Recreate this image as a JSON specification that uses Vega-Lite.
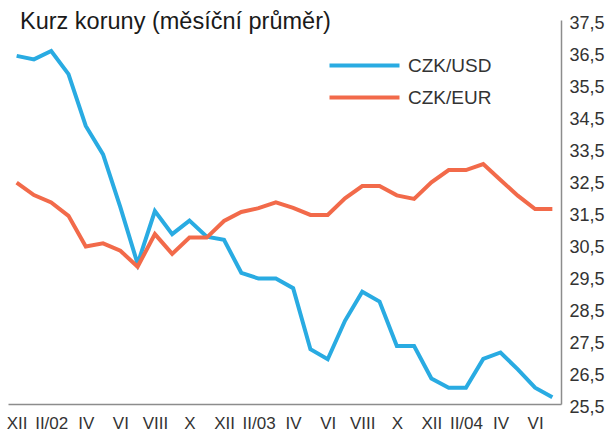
{
  "$schema": "https://vega.github.io/schema/vega-lite/v6.json",
  "width": 553,
  "height": 384,
  "autosize": {"type": "none"},
  "padding": {"left": 8, "top": 20, "right": 48, "bottom": 28},
  "background": "white",
  "config": {"view": {"stroke": null}, "font": "Liberation Sans"},
  "title": {
    "text": "Kurz koruny (měsíční průměr)",
    "anchor": "start",
    "frame": "group",
    "orient": "top",
    "offset": 0,
    "baseline": "alphabetic",
    "dx": 12,
    "dy": 38,
    "fontSize": 23.5,
    "fontWeight": "normal",
    "color": "#1a1a1a",
    "font": "Liberation Sans"
  },
  "data": {
    "values": [
      {"m": "XII/01", "k": "CZK/USD", "v": 36.38}, {"m": "XII/01", "k": "CZK/EUR", "v": 32.42},
      {"m": "I/02", "k": "CZK/USD", "v": 36.27}, {"m": "I/02", "k": "CZK/EUR", "v": 32.03},
      {"m": "II/02", "k": "CZK/USD", "v": 36.53}, {"m": "II/02", "k": "CZK/EUR", "v": 31.80},
      {"m": "III/02", "k": "CZK/USD", "v": 35.81}, {"m": "III/02", "k": "CZK/EUR", "v": 31.38},
      {"m": "IV/02", "k": "CZK/USD", "v": 34.19}, {"m": "IV/02", "k": "CZK/EUR", "v": 30.42},
      {"m": "V/02", "k": "CZK/USD", "v": 33.30}, {"m": "V/02", "k": "CZK/EUR", "v": 30.52},
      {"m": "VI/02", "k": "CZK/USD", "v": 31.65}, {"m": "VI/02", "k": "CZK/EUR", "v": 30.29},
      {"m": "VII/02", "k": "CZK/USD", "v": 29.88}, {"m": "VII/02", "k": "CZK/EUR", "v": 29.79},
      {"m": "VIII/02", "k": "CZK/USD", "v": 31.53}, {"m": "VIII/02", "k": "CZK/EUR", "v": 30.81},
      {"m": "IX/02", "k": "CZK/USD", "v": 30.81}, {"m": "IX/02", "k": "CZK/EUR", "v": 30.19},
      {"m": "X/02", "k": "CZK/USD", "v": 31.23}, {"m": "X/02", "k": "CZK/EUR", "v": 30.70},
      {"m": "XI/02", "k": "CZK/USD", "v": 30.73}, {"m": "XI/02", "k": "CZK/EUR", "v": 30.70},
      {"m": "XII/02", "k": "CZK/USD", "v": 30.63}, {"m": "XII/02", "k": "CZK/EUR", "v": 31.22},
      {"m": "I/03", "k": "CZK/USD", "v": 29.60}, {"m": "I/03", "k": "CZK/EUR", "v": 31.50},
      {"m": "II/03", "k": "CZK/USD", "v": 29.42}, {"m": "II/03", "k": "CZK/EUR", "v": 31.62},
      {"m": "III/03", "k": "CZK/USD", "v": 29.42}, {"m": "III/03", "k": "CZK/EUR", "v": 31.80},
      {"m": "IV/03", "k": "CZK/USD", "v": 29.12}, {"m": "IV/03", "k": "CZK/EUR", "v": 31.63},
      {"m": "V/03", "k": "CZK/USD", "v": 27.21}, {"m": "V/03", "k": "CZK/EUR", "v": 31.41},
      {"m": "VI/03", "k": "CZK/USD", "v": 26.90}, {"m": "VI/03", "k": "CZK/EUR", "v": 31.41},
      {"m": "VII/03", "k": "CZK/USD", "v": 28.10}, {"m": "VII/03", "k": "CZK/EUR", "v": 31.93},
      {"m": "VIII/03", "k": "CZK/USD", "v": 29.01}, {"m": "VIII/03", "k": "CZK/EUR", "v": 32.31},
      {"m": "IX/03", "k": "CZK/USD", "v": 28.70}, {"m": "IX/03", "k": "CZK/EUR", "v": 32.31},
      {"m": "X/03", "k": "CZK/USD", "v": 27.31}, {"m": "X/03", "k": "CZK/EUR", "v": 32.02},
      {"m": "XI/03", "k": "CZK/USD", "v": 27.31}, {"m": "XI/03", "k": "CZK/EUR", "v": 31.91},
      {"m": "XII/03", "k": "CZK/USD", "v": 26.30}, {"m": "XII/03", "k": "CZK/EUR", "v": 32.43},
      {"m": "I/04", "k": "CZK/USD", "v": 26.01}, {"m": "I/04", "k": "CZK/EUR", "v": 32.81},
      {"m": "II/04", "k": "CZK/USD", "v": 26.01}, {"m": "II/04", "k": "CZK/EUR", "v": 32.81},
      {"m": "III/04", "k": "CZK/USD", "v": 26.91}, {"m": "III/04", "k": "CZK/EUR", "v": 33.00},
      {"m": "IV/04", "k": "CZK/USD", "v": 27.11}, {"m": "IV/04", "k": "CZK/EUR", "v": 32.50},
      {"m": "V/04", "k": "CZK/USD", "v": 26.58}, {"m": "V/04", "k": "CZK/EUR", "v": 32.01},
      {"m": "VI/04", "k": "CZK/USD", "v": 26.01}, {"m": "VI/04", "k": "CZK/EUR", "v": 31.59},
      {"m": "VII/04", "k": "CZK/USD", "v": 25.71}, {"m": "VII/04", "k": "CZK/EUR", "v": 31.59}
    ]
  },
  "mark": {"type": "line", "strokeWidth": 4},
  "encoding": {
    "x": {
      "field": "m",
      "type": "ordinal",
      "sort": null,
      "scale": {"type": "point", "padding": 0.5},
      "axis": {
        "title": null,
        "values": ["XII/01", "II/02", "IV/02", "VI/02", "VIII/02", "X/02", "XII/02", "II/03", "IV/03", "VI/03", "VIII/03", "X/03", "XII/03", "II/04", "IV/04", "VI/04"],
        "labelExpr": "indexof(datum.value, 'II/') == 0 ? datum.value : split(datum.value, '/')[0]",
        "labelAngle": 0,
        "ticks": false,
        "tickSize": 0,
        "grid": false,
        "domainColor": "#8c8c8c",
        "domainWidth": 1.5,
        "labelFontSize": 17,
        "labelColor": "#333333",
        "labelBaseline": "top",
        "labelPadding": 11,
        "labelFont": "Liberation Sans"
      }
    },
    "y": {
      "field": "v",
      "type": "quantitative",
      "scale": {"domain": [25.5, 37.5], "zero": false, "nice": false},
      "axis": {
        "orient": "right",
        "title": null,
        "values": [25.5, 26.5, 27.5, 28.5, 29.5, 30.5, 31.5, 32.5, 33.5, 34.5, 35.5, 36.5, 37.5],
        "labelExpr": "replace(format(datum.value, '.1f'), '.', ',')",
        "ticks": false,
        "tickSize": 0,
        "grid": false,
        "domainColor": "#8c8c8c",
        "domainWidth": 1.5,
        "labelFontSize": 18,
        "labelColor": "#333333",
        "labelPadding": 8,
        "labelOffset": 3,
        "labelFont": "Liberation Sans"
      }
    },
    "color": {
      "field": "k",
      "type": "nominal",
      "scale": {"domain": ["CZK/USD", "CZK/EUR"], "range": ["#29abe2", "#f26a4a"]},
      "legend": {
        "title": null,
        "orient": "none",
        "legendX": 347,
        "legendY": 36,
        "padding": 0,
        "symbolType": "M-5,0H5",
        "symbolSize": 196,
        "symbolStrokeWidth": 4,
        "labelFontSize": 19,
        "labelColor": "#333333",
        "labelOffset": 34,
        "rowPadding": 12,
        "labelFont": "Liberation Sans"
      }
    }
  }
}
